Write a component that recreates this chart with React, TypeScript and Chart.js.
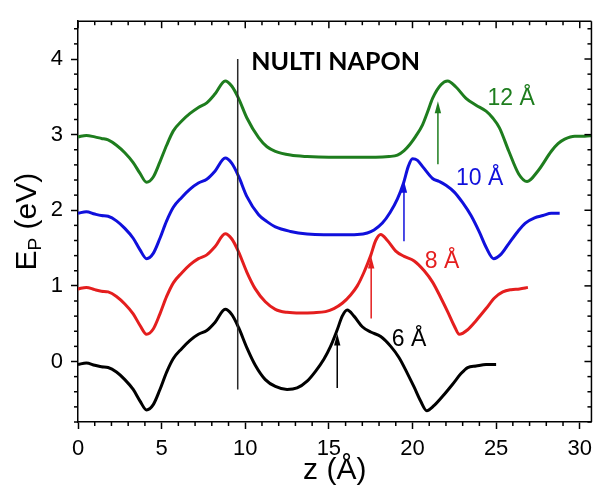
import React, { useEffect, useRef } from "react";
import { Chart, registerables } from "chart.js";

Chart.register(...registerables);

// ---- axes ----
const xTickValues = [0, 5, 10, 15, 20, 25, 30];
const yTickValues = [0, 1, 2, 3, 4];
const X_MIN = 0;
const X_MAX = 30.7;
const Y_MIN = -0.8;
const Y_MAX = 4.5;

// ---- series ----
const seriesLabels = ["6 Å", "8 Å", "10 Å", "12 Å"];
const seriesColors = ["#000000", "#e41e1e", "#1010dc", "#1e7d1e"];

const curve6: [number, number][] = [
  [0, -0.04], [0.5, -0.02], [1.0, -0.05], [1.4, -0.07], [1.8, -0.08], [2.3, -0.14], [2.8, -0.24],
  [3.3, -0.37], [3.7, -0.52], [4.1, -0.64], [4.5, -0.57], [4.9, -0.37], [5.3, -0.14], [5.7, 0.04],
  [6.2, 0.17], [6.7, 0.28], [7.2, 0.36], [7.7, 0.41], [8.2, 0.52], [8.8, 0.69], [9.2, 0.62],
  [9.6, 0.45], [10.1, 0.18], [10.6, -0.05], [11.2, -0.24], [11.8, -0.33], [12.5, -0.37],
  [13.1, -0.35], [13.7, -0.26], [14.2, -0.13], [14.7, 0.03], [15.1, 0.2], [15.5, 0.42], [15.8, 0.6],
  [16.1, 0.68], [16.5, 0.6], [17.0, 0.46], [17.5, 0.39], [18.1, 0.33], [18.7, 0.2], [19.2, 0.05],
  [19.7, -0.16], [20.1, -0.34], [20.5, -0.53], [20.85, -0.65], [21.3, -0.58], [21.8, -0.46],
  [22.4, -0.3], [22.9, -0.16], [23.3, -0.08], [23.8, -0.06], [24.4, -0.04], [25.0, -0.04],
];

const curve8: [number, number][] = [
  [0, 0.96], [0.5, 0.98], [1.0, 0.95], [1.4, 0.93], [1.8, 0.92], [2.3, 0.86], [2.8, 0.76],
  [3.3, 0.63], [3.7, 0.48], [4.1, 0.36], [4.5, 0.43], [4.9, 0.63], [5.3, 0.86], [5.7, 1.04],
  [6.2, 1.17], [6.7, 1.28], [7.2, 1.36], [7.7, 1.41], [8.2, 1.52], [8.8, 1.69], [9.2, 1.62],
  [9.6, 1.45], [10.1, 1.18], [10.6, 0.96], [11.2, 0.79], [11.8, 0.69], [12.5, 0.65], [13.3, 0.64],
  [14.1, 0.645], [14.8, 0.66], [15.3, 0.7], [15.8, 0.77], [16.3, 0.88], [16.7, 1.0], [17.1, 1.18],
  [17.5, 1.4], [17.8, 1.6], [18.1, 1.68], [18.5, 1.6], [19.0, 1.46], [19.5, 1.39], [20.1, 1.33],
  [20.7, 1.2], [21.2, 1.05], [21.7, 0.84], [22.1, 0.66], [22.5, 0.47], [22.8, 0.36], [23.3, 0.42],
  [23.8, 0.54], [24.4, 0.7], [24.9, 0.84], [25.4, 0.92], [25.9, 0.95], [26.4, 0.96], [26.9, 0.98],
];

const curve10: [number, number][] = [
  [0, 1.96], [0.5, 1.98], [1.0, 1.95], [1.4, 1.93], [1.8, 1.92], [2.3, 1.86], [2.8, 1.76],
  [3.3, 1.63], [3.7, 1.48], [4.1, 1.36], [4.5, 1.43], [4.9, 1.63], [5.3, 1.86], [5.7, 2.04],
  [6.2, 2.17], [6.7, 2.28], [7.2, 2.36], [7.7, 2.41], [8.2, 2.52], [8.8, 2.69], [9.2, 2.62],
  [9.6, 2.45], [10.1, 2.18], [10.8, 1.94], [11.3, 1.85], [11.8, 1.78], [12.7, 1.72], [13.7, 1.685],
  [14.7, 1.675], [15.7, 1.675], [16.7, 1.68], [17.3, 1.7], [17.7, 1.74], [18.2, 1.83], [18.66, 1.97],
  [19.1, 2.15], [19.45, 2.35], [19.75, 2.58], [20.0, 2.68], [20.3, 2.66], [20.63, 2.57], [21.2, 2.42],
  [21.6, 2.38], [22.0, 2.33], [22.5, 2.24], [23.0, 2.1], [23.5, 1.93], [24.0, 1.71], [24.4, 1.51],
  [24.85, 1.36], [25.3, 1.42], [25.76, 1.56], [26.3, 1.72], [26.75, 1.83], [27.3, 1.9], [27.8, 1.93],
  [28.3, 1.96], [28.8, 1.96],
];

const curve12: [number, number][] = [
  [0, 2.97], [0.5, 2.99], [1.0, 2.97], [1.4, 2.95], [1.8, 2.93], [2.3, 2.86], [2.8, 2.76],
  [3.3, 2.63], [3.7, 2.49], [4.1, 2.37], [4.5, 2.44], [4.9, 2.64], [5.3, 2.86], [5.7, 3.05],
  [6.2, 3.18], [6.7, 3.28], [7.2, 3.36], [7.7, 3.42], [8.2, 3.54], [8.8, 3.71], [9.2, 3.64],
  [9.6, 3.48], [10.1, 3.22], [10.8, 2.96], [11.3, 2.84], [11.8, 2.78], [12.7, 2.73], [13.7, 2.71],
  [15.0, 2.7], [16.5, 2.7], [17.8, 2.7], [18.6, 2.71], [19.1, 2.73], [19.5, 2.79], [19.84, 2.87],
  [20.2, 2.98], [20.6, 3.13], [20.9, 3.3], [21.2, 3.48], [21.7, 3.66], [22.1, 3.71], [22.6, 3.63],
  [23.2, 3.48], [23.8, 3.39], [24.4, 3.31], [24.8, 3.22], [25.2, 3.09], [25.76, 2.78], [26.35, 2.48],
  [26.85, 2.38], [27.5, 2.52], [28.3, 2.78], [28.7, 2.88], [29.1, 2.94], [29.7, 2.98], [30.3, 2.98],
  [30.8, 2.99],
];

const curves = [curve6, curve8, curve10, curve12];

// ---- annotations (data units) ----
const arrowZ = [15.5, 17.53, 19.49, 21.52];
const arrowFrom = [-0.35, 0.57, 1.59, 2.61];
const arrowTo = [0.37, 1.39, 2.39, 3.44];
const labelZ = [18.76, 20.73, 22.6, 24.48];
const labelE = [0.2, 1.24, 2.33, 3.39];
const markerZ = 9.55;
const markerFrom = -0.37;
const markerTo = 4.0;
const noteText = "NULTI NAPON";
const noteZ = 10.36;
const noteE = 3.85;

const FONT = "'Liberation Sans', Arial, Helvetica, sans-serif";
const NOTE_FONT = "Lato, 'Open Sans', sans-serif";

const annotationPlugin = {
  id: "annotations",
  afterDraw(chart: any) {
    const ctx: CanvasRenderingContext2D = chart.ctx;
    const xs = chart.scales.x;
    const ys = chart.scales.y;
    const { left, right, top, bottom } = chart.chartArea;
    const line = (x1: number, y1: number, x2: number, y2: number) => {
      ctx.beginPath();
      ctx.moveTo(x1, y1);
      ctx.lineTo(x2, y2);
      ctx.stroke();
    };
    ctx.save();
    ctx.strokeStyle = "#000";
    ctx.lineWidth = 1.5;
    // top and right frame
    line(left, top, right, top);
    line(right, top, right, bottom);
    // x ticks: minor on bottom, all on top (inward)
    for (let v = Math.ceil(X_MIN); v <= X_MAX; v++) {
      const px = xs.getPixelForValue(v);
      const major = v % 5 === 0;
      if (!major) line(px, bottom, px, bottom + 4);
      line(px, top, px, top + (major ? 7 : 4));
    }
    // y ticks: minor on left, all on right (inward)
    for (let i = Math.ceil(Y_MIN * 5); i <= Math.floor(Y_MAX * 5); i++) {
      const py = ys.getPixelForValue(i / 5);
      const major = i % 5 === 0;
      if (!major) line(left - 4, py, left, py);
      line(right, py, right - (major ? 7 : 4), py);
    }

    // vertical marker
    ctx.strokeStyle = "#2a2a2a";
    ctx.lineWidth = 1.5;
    const mx = xs.getPixelForValue(markerZ);
    line(mx, ys.getPixelForValue(markerFrom), mx, ys.getPixelForValue(markerTo));

    // arrows
    for (let k = 0; k < arrowZ.length; k++) {
      const ax = xs.getPixelForValue(arrowZ[k]);
      const y0 = ys.getPixelForValue(arrowFrom[k]);
      const y1 = ys.getPixelForValue(arrowTo[k]);
      ctx.strokeStyle = seriesColors[k];
      ctx.fillStyle = seriesColors[k];
      ctx.lineWidth = 1.5;
      line(ax, y0, ax, y1 + 8);
      ctx.beginPath();
      ctx.moveTo(ax, y1);
      ctx.lineTo(ax - 3.2, y1 + 12);
      ctx.lineTo(ax + 3.2, y1 + 12);
      ctx.closePath();
      ctx.fill();
    }

    // series labels
    ctx.font = `23px ${FONT}`;
    ctx.textAlign = "left";
    ctx.textBaseline = "alphabetic";
    for (let k = 0; k < seriesLabels.length; k++) {
      ctx.fillStyle = seriesColors[k];
      ctx.fillText(seriesLabels[k], xs.getPixelForValue(labelZ[k]), ys.getPixelForValue(labelE[k]));
    }

    // note
    ctx.fillStyle = "#000";
    ctx.font = `bold 25px ${NOTE_FONT}`;
    ctx.fillText(noteText, xs.getPixelForValue(noteZ), ys.getPixelForValue(noteE));

    // y-axis title with subscript
    const big = `30px ${FONT}`;
    const small = `19px ${FONT}`;
    ctx.font = big;
    const wE = ctx.measureText("E").width;
    const wRest = ctx.measureText(" (eV)").width;
    ctx.font = small;
    const wP = ctx.measureText("P").width;
    const total = wE + wP + wRest;
    ctx.save();
    ctx.translate(36, (top + bottom) / 2);
    ctx.rotate(-Math.PI / 2);
    let cx = -total / 2;
    ctx.font = big;
    ctx.fillText("E", cx, 0);
    cx += wE;
    ctx.font = small;
    ctx.fillText("P", cx, 5);
    cx += wP;
    ctx.font = big;
    ctx.fillText(" (eV)", cx, 0);
    ctx.restore();

    ctx.restore();
  },
};

export default function App() {
  const canvasRef = useRef<HTMLCanvasElement | null>(null);

  useEffect(() => {
    document.body.style.margin = "0";
    const canvas = canvasRef.current;
    if (!canvas) return;
    const chart = new Chart(canvas, {
      type: "line",
      data: {
        datasets: curves.map((c, k) => ({
          label: seriesLabels[k],
          data: c.map(([x, y]) => ({ x, y })),
          borderColor: seriesColors[k],
          backgroundColor: seriesColors[k],
          borderWidth: 3,
          pointRadius: 0,
          fill: false,
          cubicInterpolationMode: "monotone" as const,
        })),
      },
      options: {
        animation: false,
        responsive: false,
        maintainAspectRatio: false,
        layout: { padding: { top: 15, right: 1, left: 0, bottom: 0 } },
        plugins: { legend: { display: false }, tooltip: { enabled: false } },
        scales: {
          x: {
            type: "linear",
            min: X_MIN,
            max: X_MAX,
            afterBuildTicks: (s: any) => {
              s.ticks = xTickValues.map((v) => ({ value: v }));
            },
            afterFit: (s: any) => {
              s.height = 64;
            },
            ticks: {
              color: "#000",
              font: { family: FONT, size: 22 },
              padding: 7,
              maxRotation: 0,
              autoSkip: false,
            },
            grid: {
              drawOnChartArea: false,
              drawTicks: true,
              tickLength: 7,
              tickWidth: 1.5,
              tickColor: "#000",
            },
            border: { display: true, color: "#000", width: 1.5 },
            title: {
              display: true,
              text: "z (Å)",
              color: "#000",
              font: { family: FONT, size: 30, lineHeight: 1.0 },
              padding: 0,
            },
          },
          y: {
            type: "linear",
            min: Y_MIN,
            max: Y_MAX,
            afterBuildTicks: (s: any) => {
              s.ticks = yTickValues.map((v) => ({ value: v }));
            },
            afterFit: (s: any) => {
              s.width = 78;
            },
            ticks: {
              color: "#000",
              font: { family: FONT, size: 22 },
              padding: 8,
              autoSkip: false,
            },
            grid: {
              drawOnChartArea: false,
              drawTicks: true,
              tickLength: 7,
              tickWidth: 1.5,
              tickColor: "#000",
            },
            border: { display: true, color: "#000", width: 1.5 },
          },
        },
      },
      plugins: [annotationPlugin],
    });
    return () => chart.destroy();
  }, []);

  return (
    <div style={{ position: "relative", width: 599, height: 486 }}>
      <canvas ref={canvasRef} width={599} height={486} style={{ display: "block" }} />
    </div>
  );
}
